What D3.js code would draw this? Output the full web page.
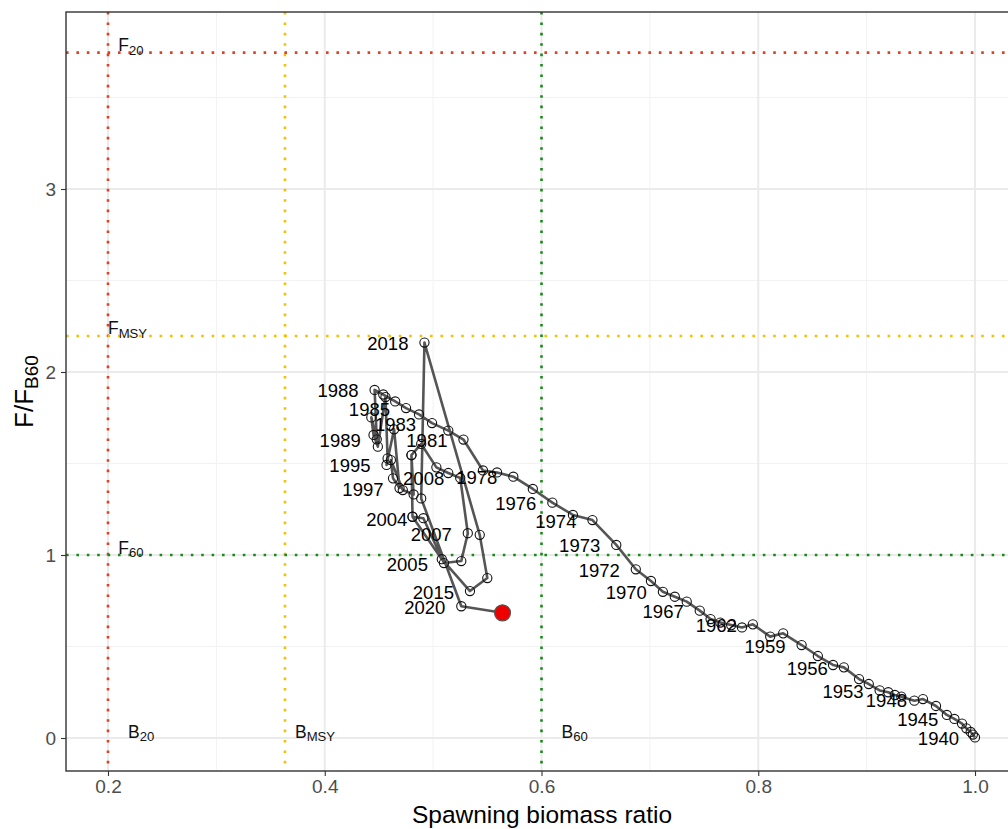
<!DOCTYPE html>
<html>
<head>
<meta charset="utf-8">
<script src="https://cdn.jsdelivr.net/npm/d3@7"></script>
<style>
  body { margin: 0; background: #fff; }
  svg { display: block; font-family: "Liberation Sans", Arial, Helvetica, sans-serif; }
</style>
</head>
<body>
<svg id="chart" width="1008" height="829"></svg>
<script>
// ---------------- data ----------------
const years = [1940,1941,1942,1943,1944,1945,1946,1947,1948,1949,
  1950,1951,1952,1953,1954,1955,1956,1957,1958,1959,
  1960,1961,1962,1963,1964,1965,1966,1967,1968,1969,
  1970,1971,1972,1973,1974,1975,1976,1977,1978,1979,
  1980,1981,1982,1983,1984,1985,1986,1987,1988,1989,
  1990,1991,1992,1993,1994,1995,1996,1997,1998,1999,
  2000,2001,2002,2003,2004,2005,2006,2007,2008,2009,
  2010,2011,2012,2013,2014,2015,2016,2017,2018,2019,
  2020,2021];

// spawning biomass ratio (x)
const ssbRatio = [1.000,0.998,0.996,0.992,0.988,0.981,0.974,0.964,0.952,0.944,
  0.932,0.926,0.920,0.912,0.902,0.893,0.879,0.869,0.855,0.840,
  0.823,0.811,0.795,0.785,0.775,0.765,0.756,0.746,0.734,0.723,
  0.712,0.701,0.687,0.669,0.647,0.629,0.610,0.592,0.574,0.559,
  0.546,0.528,0.514,0.499,0.487,0.475,0.465,0.454,0.446,0.448,
  0.443,0.445,0.449,0.456,0.458,0.457,0.464,0.469,0.463,0.461,
  0.472,0.482,0.480,0.481,0.491,0.510,0.526,0.532,0.525,0.514,
  0.503,0.489,0.480,0.481,0.508,0.534,0.550,0.543,0.492,0.489,
  0.526,0.564];

// F / F_B60 (y)
const fRatio = [0.003,0.019,0.033,0.053,0.079,0.104,0.126,0.175,0.213,0.204,
  0.226,0.235,0.250,0.260,0.295,0.322,0.386,0.399,0.448,0.508,
  0.572,0.554,0.621,0.604,0.617,0.631,0.650,0.696,0.745,0.772,
  0.799,0.858,0.922,1.055,1.191,1.219,1.286,1.361,1.428,1.451,
  1.462,1.631,1.680,1.721,1.768,1.803,1.839,1.877,1.902,1.632,
  1.752,1.656,1.592,1.863,1.528,1.492,1.687,1.366,1.419,1.519,
  1.355,1.331,1.546,1.209,1.201,0.956,0.967,1.119,1.421,1.448,
  1.479,1.607,1.546,1.209,0.977,0.803,0.874,1.110,2.161,1.309,
  0.720,0.684];

// years that carry a text label
const labelYears = [1940,1945,1948,1953,1956,1959,1962,1967,1970,1972,1973,1974,
  1976,1978,1981,1983,1985,1988,1989,1995,1997,2004,2005,2007,2008,2015,2018,2020];

// reference points
const refB = [ {name:"B", sub:"20",  value:0.2,   color:"#E0401E"},
               {name:"B", sub:"MSY", value:0.3633,color:"#F5C000"},
               {name:"B", sub:"60",  value:0.6,   color:"#1A8A1A"} ];
const refF = [ {name:"F", sub:"20",  value:3.745, color:"#E0401E"},
               {name:"F", sub:"MSY", value:2.197, color:"#F5C000"},
               {name:"F", sub:"60",  value:1.0,   color:"#1A8A1A"} ];

const xTicks = [0.2,0.4,0.6,0.8,1.0];
const xMinor = [0.3,0.5,0.7,0.9];
const yTicks = [0,1,2,3];
const yMinor = [0.5,1.5,2.5,3.5];

// ---------------- layout ----------------
const svg = d3.select("#chart");
const panel = {left:66, top:12, right:1018, bottom:771};

const x = d3.scaleLinear().domain([0.16125, 1.03967]).range([panel.left, panel.right]);
const y = d3.scaleLinear().domain([-0.1803, 3.9672]).range([panel.bottom, panel.top]);

svg.append("clipPath").attr("id","clip")
  .append("rect").attr("x",panel.left).attr("y",panel.top)
  .attr("width",panel.right-panel.left).attr("height",panel.bottom-panel.top);

const g = svg.append("g");
const pg = g.append("g").attr("clip-path","url(#clip)");

// grid
pg.selectAll(".xminor").data(xMinor).join("line")
  .attr("x1",d=>x(d)).attr("x2",d=>x(d)).attr("y1",panel.top).attr("y2",panel.bottom)
  .attr("stroke","#F2F2F2").attr("stroke-width",1);
pg.selectAll(".yminor").data(yMinor).join("line")
  .attr("y1",d=>y(d)).attr("y2",d=>y(d)).attr("x1",panel.left).attr("x2",panel.right)
  .attr("stroke","#F2F2F2").attr("stroke-width",1);
pg.selectAll(".xmajor").data(xTicks).join("line")
  .attr("x1",d=>x(d)).attr("x2",d=>x(d)).attr("y1",panel.top).attr("y2",panel.bottom)
  .attr("stroke","#EBEBEB").attr("stroke-width",2);
pg.selectAll(".ymajor").data(yTicks).join("line")
  .attr("y1",d=>y(d)).attr("y2",d=>y(d)).attr("x1",panel.left).attr("x2",panel.right)
  .attr("stroke","#EBEBEB").attr("stroke-width",2);

// reference lines
pg.selectAll(".refB").data(refB).join("line")
  .attr("x1",d=>x(d.value)).attr("x2",d=>x(d.value)).attr("y1",panel.top).attr("y2",panel.bottom)
  .attr("stroke",d=>d.color).attr("stroke-width",2.6).attr("stroke-dasharray","2.6 7.8");
pg.selectAll(".refF").data(refF).join("line")
  .attr("y1",d=>y(d.value)).attr("y2",d=>y(d.value)).attr("x1",panel.left).attr("x2",panel.right)
  .attr("stroke",d=>d.color).attr("stroke-width",2.6).attr("stroke-dasharray","2.6 7.8");

// ref labels
function subText(sel, d, size) {
  sel.append("tspan").text(d.name);
  sel.append("tspan").attr("font-size", size*0.75).attr("dy", size*0.2).text(d.sub);
}
const refBLabelX = [0.2185, 0.3725, 0.6185];
refB.forEach((d,i) => {
  const t = pg.append("text").attr("x", x(refBLabelX[i])).attr("y", y(0.0) - 0.5)
    .attr("font-size",17.5).attr("fill","#111");
  subText(t, d, 17.5);
});
const refFLabelX = [0.2095, 0.2, 0.2095];
refF.forEach((d,i) => {
  const t = pg.append("text").attr("x", x(refFLabelX[i])).attr("y", y(d.value) - 1.5)
    .attr("font-size",17.5).attr("fill","#111");
  subText(t, d, 17.5);
});

// trajectory
const pts = years.map((yr,i)=>({year:yr, sx:ssbRatio[i], f:fRatio[i]}));
const line = d3.line().x(d=>x(d.sx)).y(d=>y(d.f));
pg.append("path").datum(pts).attr("d",line).attr("fill","none")
  .attr("stroke","#555555").attr("stroke-width",2.6).attr("stroke-linejoin","round");

pg.selectAll(".pt").data(pts.slice(0,-1)).join("circle")
  .attr("cx",d=>x(d.sx)).attr("cy",d=>y(d.f)).attr("r",4.6)
  .attr("fill","none").attr("stroke","#111").attr("stroke-width",1.1);

const last = pts[pts.length-1];
pg.append("circle").attr("cx",x(last.sx)).attr("cy",y(last.f)).attr("r",8)
  .attr("fill","#EE0000").attr("stroke","#555").attr("stroke-width",1.2);

// year labels
pg.selectAll(".yl").data(pts.filter(d=>labelYears.includes(d.year))).join("text")
  .attr("x",d=>x(d.sx)-16).attr("y",d=>y(d.f)+7.5)
  .attr("text-anchor","end").attr("font-size",18.5).attr("fill","#000")
  .text(d=>d.year);

// panel border
g.append("rect").attr("x",panel.left).attr("y",panel.top)
  .attr("width",panel.right-panel.left).attr("height",panel.bottom-panel.top)
  .attr("fill","none").attr("stroke","#333").attr("stroke-width",1.4);

// axes
const xAxis = d3.axisBottom(x).tickValues(xTicks).tickFormat(d3.format(".1f")).tickSizeOuter(0).tickSize(5).tickPadding(4);
const gx = g.append("g").attr("transform",`translate(0,${panel.bottom})`).call(xAxis);
const yAxis = d3.axisLeft(y).tickValues(yTicks).tickFormat(d3.format("d")).tickSizeOuter(0).tickSize(5).tickPadding(5);
const gy = g.append("g").attr("transform",`translate(${panel.left},0)`).call(yAxis);
[gx,gy].forEach(a=>{
  a.select(".domain").remove();
  a.selectAll(".tick line").attr("stroke","#333").attr("stroke-width",1.1);
  a.selectAll(".tick text").attr("fill","#4D4D4D").attr("font-size",19)
    .attr("font-family","'Liberation Sans', Arial, sans-serif");
});

// axis titles
svg.append("text").attr("x",(panel.left+1008)/2+5).attr("y",823)
  .attr("text-anchor","middle").attr("font-size",24.5).attr("fill","#000")
  .text("Spawning biomass ratio");
const yt = svg.append("text").attr("transform",`translate(33,${(panel.top+panel.bottom)/2}) rotate(-90)`)
  .attr("text-anchor","middle").attr("font-size",26).attr("fill","#000");
yt.append("tspan").text("F/F");
yt.append("tspan").attr("font-size",19).attr("dy",5).text("B60");
</script>
</body>
</html>
